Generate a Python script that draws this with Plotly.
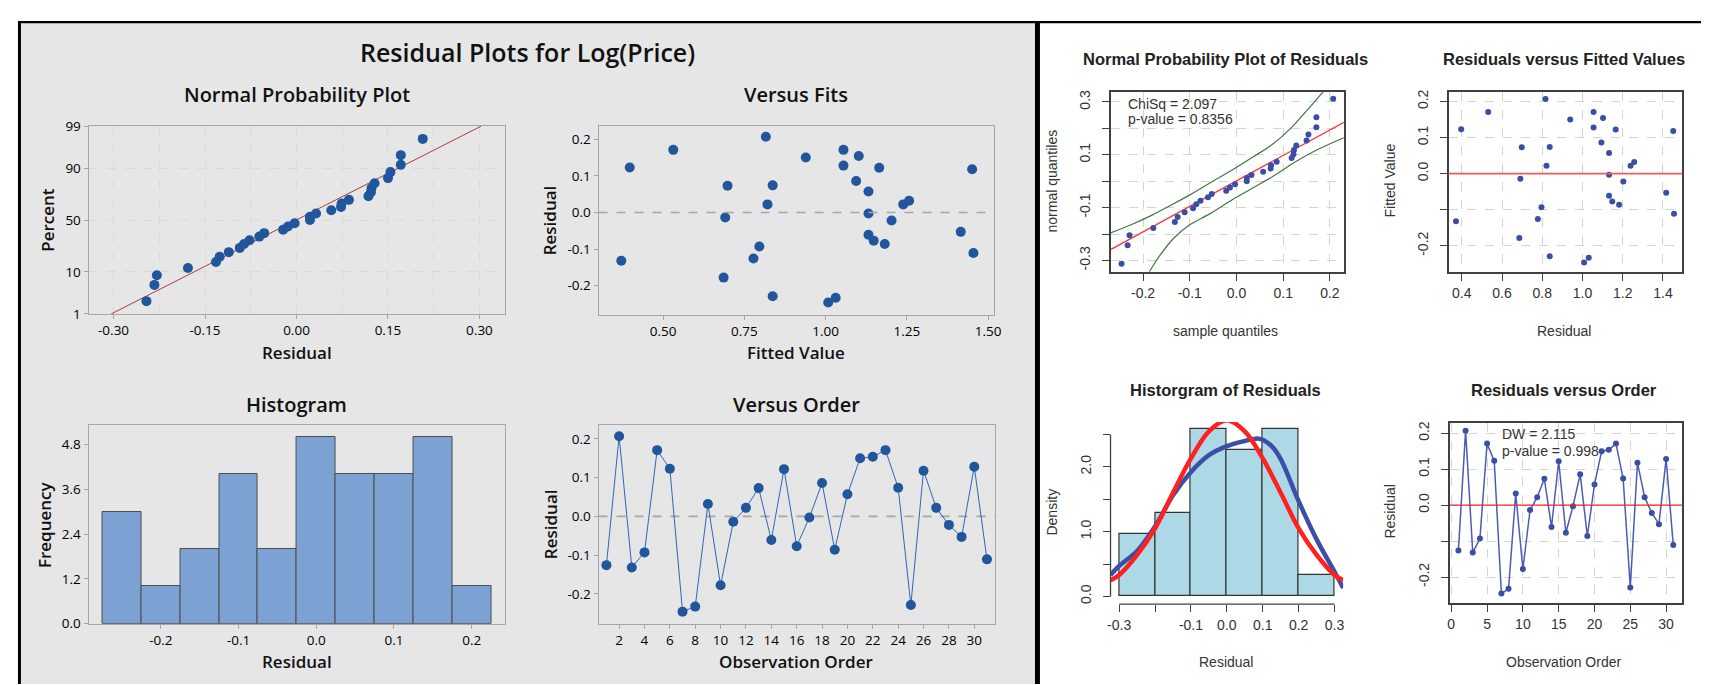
import plotly.graph_objects as go
from statistics import NormalDist

W, H = 1709, 685
MT_FONT = "Open Sans"
R_FONT = "Liberation Sans"

# ---------------- data ----------------
observation = list(range(1, 32))
residuals = [-0.126, 0.207, -0.132, -0.093, 0.171, 0.123, -0.246, -0.233, 0.032, -0.178,
             -0.014, 0.022, 0.073, -0.061, 0.122, -0.077, -0.003, 0.086, -0.086, 0.057,
             0.150, 0.154, 0.171, 0.074, -0.229, 0.118, 0.022, -0.022, -0.053, 0.128, -0.111]
fitted_values = [0.778, 0.816, 0.371, 0.796, 0.531, 0.397, 1.008, 1.031, 1.257, 0.686,
                 0.691, 0.821, 0.698, 1.132, 1.165, 1.148, 1.132, 1.094, 1.182, 1.132,
                 0.939, 1.102, 1.055, 0.837, 0.837, 1.451, 1.239, 1.203, 1.416, 1.055, 1.455]

# Minitab normal probability plot
npp_pct_ticks = [1, 10, 50, 90, 99]
npp_line_x = [-0.304, 0.303]
npp_line_pct = [1, 99]

# R normal probability plot (scale of "normal quantiles" axis, fitted line, envelope)
r_qq_scale = 0.146
r_line_x = [-0.2696, 0.2298]
r_line_y = [-0.259, 0.223]
env_upper_x = [-0.2695, -0.2255, -0.183, -0.1404, -0.100, -0.0554, -0.0057, 0.0368, 0.0793, 0.1148, 0.1432, 0.168, 0.1857]
env_upper_y = [-0.1955, -0.1648, -0.1303, -0.091, -0.0516, -0.0049, 0.0467, 0.0934, 0.1426, 0.198, 0.2533, 0.3025, 0.339]
env_lower_x = [-0.1865, -0.1759, -0.1617, -0.1334, -0.100, -0.0554, -0.0057, 0.0368, 0.0793, 0.1219, 0.1715, 0.2297]
env_lower_y = [-0.343, -0.3123, -0.2754, -0.2139, -0.1648, -0.1217, -0.0664, -0.0234, 0.0197, 0.0689, 0.118, 0.1648]

# R histogram density curves
norm_x = [-0.324, -0.3, -0.25, -0.2, -0.15, -0.1, -0.05, 0.0, 0.05, 0.1, 0.15, 0.2, 0.25, 0.3, 0.324]
norm_dens = [0.25, 0.33, 0.64, 1.05, 1.60, 2.13, 2.55, 2.72, 2.55, 2.13, 1.60, 1.05, 0.64, 0.33, 0.25]
kde_x = [-0.324, -0.3, -0.25, -0.2, -0.15, -0.1, -0.05, 0.0, 0.05, 0.085, 0.1, 0.125, 0.15, 0.2, 0.25, 0.3, 0.324]
kde_dens = [0.33, 0.47, 0.70, 1.08, 1.56, 1.92, 2.18, 2.32, 2.40, 2.44, 2.42, 2.32, 2.12, 1.47, 0.88, 0.38, 0.13]

# text
main_title = "Residual Plots for Log(Price)"
stat_chisq = "ChiSq = 2.097"
stat_chisq_p = "p-value = 0.8356"
stat_dw = "DW = 2.115"
stat_dw_p = "p-value = 0.998"

# ---------------- derived positions ----------------
std_norm = NormalDist()
n = len(residuals)
res_sorted = sorted(residuals)
npp_z = [std_norm.inv_cdf((i - 0.3) / (n + 0.4)) for i in range(1, n + 1)]
r_qq_y = [NormalDist(0, r_qq_scale).inv_cdf((i - 0.5) / n) for i in range(1, n + 1)]
zt = lambda p: std_norm.inv_cdf(p / 100.0)

MT_BLUE = "#1f569c"
R_BLUE = "#3a4ea6"


def dx(a, b):
    return [a / W, b / W]


def dy(top, bottom):
    return [1 - bottom / H, 1 - top / H]


fig = go.Figure()

# ---- Minitab panel ----
fig.add_trace(go.Scatter(x=npp_line_x, y=[zt(p) for p in npp_line_pct], mode="lines",
                         line=dict(color="#b03a3a", width=1), xaxis="x", yaxis="y"))
fig.add_trace(go.Scatter(x=res_sorted, y=npp_z, mode="markers",
                         marker=dict(size=10, color=MT_BLUE), xaxis="x", yaxis="y"))
fig.add_trace(go.Scatter(x=fitted_values, y=residuals, mode="markers",
                         marker=dict(size=10, color=MT_BLUE), xaxis="x2", yaxis="y2"))
fig.add_trace(go.Histogram(x=residuals, xbins=dict(start=-0.275, end=0.225, size=0.05),
                           marker=dict(color="#7ba2d3", line=dict(color="#4d4d4d", width=1)),
                           xaxis="x3", yaxis="y3"))
fig.add_trace(go.Scatter(x=observation, y=residuals, mode="lines+markers",
                         line=dict(color="#2f66b8", width=1),
                         marker=dict(size=10, color=MT_BLUE), xaxis="x4", yaxis="y4"))

# ---- R panel ----
fig.add_trace(go.Scatter(x=env_upper_x, y=env_upper_y, mode="lines", line=dict(color="#3d7a3d", width=1.2, shape="spline"),
                         xaxis="x5", yaxis="y5"))
fig.add_trace(go.Scatter(x=env_lower_x, y=env_lower_y, mode="lines", line=dict(color="#3d7a3d", width=1.2, shape="spline"),
                         xaxis="x5", yaxis="y5"))
fig.add_trace(go.Scatter(x=r_line_x, y=r_line_y, mode="lines", line=dict(color="#ff3030", width=1.2),
                         xaxis="x5", yaxis="y5"))
fig.add_trace(go.Scatter(x=res_sorted, y=r_qq_y, mode="markers", marker=dict(size=6, color=R_BLUE),
                         xaxis="x5", yaxis="y5"))
fig.add_trace(go.Scatter(x=fitted_values, y=residuals, mode="markers", marker=dict(size=6, color=R_BLUE),
                         xaxis="x6", yaxis="y6"))
fig.add_trace(go.Histogram(x=residuals, xbins=dict(start=-0.3, end=0.3, size=0.1), histnorm="probability density",
                           marker=dict(color="#add8e6", line=dict(color="#333333", width=1.2)),
                           xaxis="x7", yaxis="y7"))
fig.add_trace(go.Scatter(x=kde_x, y=kde_dens, mode="lines", line=dict(color="#3b4ea8", width=4.5, shape="spline"),
                         xaxis="x7", yaxis="y7"))
fig.add_trace(go.Scatter(x=norm_x, y=norm_dens, mode="lines", line=dict(color="#ff2020", width=4.5, shape="spline"),
                         xaxis="x7", yaxis="y7"))
fig.add_trace(go.Scatter(x=observation, y=residuals, mode="lines+markers",
                         line=dict(color="#4b5cb5", width=1.5), marker=dict(size=6, color=R_BLUE),
                         xaxis="x8", yaxis="y8"))


# ---------------- axes ----------------
def mt_axis(domain, rng, tv, tt, anchor, **kw):
    d = dict(domain=domain, range=rng, tickmode="array", tickvals=tv, ticktext=tt, anchor=anchor,
             showline=True, linecolor="#a6a6a6", linewidth=1, mirror=True,
             ticks="outside", ticklen=4, tickcolor="#a6a6a6",
             tickfont=dict(family=MT_FONT, size=13.5, color="#000000"),
             showgrid=False, zeroline=False, fixedrange=True)
    d.update(kw)
    return d


def r_axis(domain, rng, tv, tt, anchor, **kw):
    d = dict(domain=domain, range=rng, tickmode="array", tickvals=tv, ticktext=tt, anchor=anchor,
             showline=True, linecolor="#404040", linewidth=1.5, mirror=True,
             ticks="outside", ticklen=7, tickcolor="#404040", tickwidth=1,
             tickfont=dict(family=R_FONT, size=14, color="#333333"),
             showgrid=True, gridcolor="#d4d4d4", griddash="dash", gridwidth=1,
             zeroline=False, fixedrange=True)
    d.update(kw)
    return d


mt_grid = dict(showgrid=True, gridcolor="#d9d9d9", griddash="dash", gridwidth=1)
RX_STANDOFF = 1
RY_STANDOFF = 6

layout = dict(
    width=W, height=H, margin=dict(l=0, r=0, t=0, b=0),
    paper_bgcolor="white", plot_bgcolor="white", showlegend=False, bargap=0,
    xaxis=mt_axis(dx(78, 497), [-0.341, 0.342], [-0.30, -0.15, 0.0, 0.15, 0.30],
                  ["-0.30", "-0.15", "0.00", "0.15", "0.30"], "y",
                  minor=dict(tickvals=[-0.225, -0.075, 0.075, 0.225], showgrid=True,
                             gridcolor="#d9d9d9", griddash="dash", ticks=""), **mt_grid),
    yaxis=mt_axis(dy(112, 305), [zt(1), zt(99)], [zt(p) for p in npp_pct_ticks],
                  [str(p) for p in npp_pct_ticks], "x", **mt_grid),
    xaxis2=mt_axis(dx(591, 989), [0.301, 1.519], [0.5, 0.75, 1.0, 1.25, 1.5],
                   ["0.50", "0.75", "1.00", "1.25", "1.50"], "y2"),
    yaxis2=mt_axis(dy(112, 306), [-0.280, 0.236], [-0.2, -0.1, 0.0, 0.1, 0.2],
                   ["-0.2", "-0.1", "0.0", "0.1", "0.2"], "x2"),
    xaxis3=mt_axis(dx(78, 497), [-0.293, 0.243], [-0.2, -0.1, 0.0, 0.1, 0.2],
                   ["-0.2", "-0.1", "0.0", "0.1", "0.2"], "y3"),
    yaxis3=mt_axis(dy(419, 623), [0, 5.32], [0, 1.2, 2.4, 3.6, 4.8],
                   ["0.0", "1.2", "2.4", "3.6", "4.8"], "x3"),
    xaxis4=mt_axis(dx(591, 990), [0.378, 31.65], list(range(2, 31, 2)),
                   [str(v) for v in range(2, 31, 2)], "y4"),
    yaxis4=mt_axis(dy(419, 623), [-0.277, 0.236], [-0.2, -0.1, 0.0, 0.1, 0.2],
                   ["-0.2", "-0.1", "0.0", "0.1", "0.2"], "x4"),

    xaxis5=r_axis(dx(1106, 1340.7), [-0.2696, 0.2298], [-0.2, -0.1, 0.0, 0.1, 0.2],
                  ["-0.2", "-0.1", "0.0", "0.1", "0.2"], "y5", ticklabelstandoff=RX_STANDOFF),
    yaxis5=r_axis(dy(76.7, 261.7), [-0.343, 0.339], [-0.3, -0.2, -0.1, 0.0, 0.1, 0.2, 0.3],
                  ["-0.3", "", "-0.1", "", "0.1", "", "0.3"], "x5", tickangle=-90, ticklabelstandoff=RY_STANDOFF),
    xaxis6=r_axis(dx(1446, 1680.7), [0.334, 1.494], [0.4, 0.6, 0.8, 1.0, 1.2, 1.4],
                  ["0.4", "0.6", "0.8", "1.0", "1.2", "1.4"], "y6", ticklabelstandoff=RX_STANDOFF),
    yaxis6=r_axis(dy(76.7, 261.7), [-0.272, 0.227], [-0.2, -0.1, 0.0, 0.1, 0.2],
                  ["-0.2", "", "0.0", "0.1", "0.2"], "x6", tickangle=-90, ticklabelstandoff=RY_STANDOFF),
    xaxis7=r_axis(dx(1106, 1340), [-0.324, 0.324], [-0.3, -0.2, -0.1, 0.0, 0.1, 0.2, 0.3],
                  ["-0.3", "", "-0.1", "0.0", "0.1", "0.2", "0.3"], "y7",
                  showline=False, showgrid=False, ticklabelstandoff=RX_STANDOFF),
    yaxis7=r_axis(dy(416, 603), [-0.120, 2.692], [0, 0.5, 1.0, 1.5, 2.0, 2.5],
                  ["0.0", "", "1.0", "", "2.0", ""], "x7",
                  showline=False, showgrid=False, tickangle=-90, ticklabelstandoff=RY_STANDOFF),
    xaxis8=r_axis(dx(1447.3, 1680.7), [-0.2, 32.2], [0, 5, 10, 15, 20, 25, 30],
                  ["0", "5", "10", "15", "20", "25", "30"], "y8", ticklabelstandoff=RX_STANDOFF),
    yaxis8=r_axis(dy(416.7, 601.7), [-0.272, 0.229], [-0.2, -0.1, 0.0, 0.1, 0.2],
                  ["-0.2", "", "0.0", "0.1", "0.2"], "x8", tickangle=-90, ticklabelstandoff=RY_STANDOFF),
)

# ---------------- shapes ----------------
shapes = [
    dict(type="rect", xref="paper", yref="paper", x0=10 / W, x1=1030 / W, y0=0, y1=1 - 6 / H,
         fillcolor="#e6e6e6", line=dict(width=0), layer="below"),
    dict(type="rect", xref="paper", yref="paper", x0=7 / W, x1=1, y0=1 - 6.5 / H, y1=1 - 4 / H,
         fillcolor="black", line=dict(width=0)),
    dict(type="rect", xref="paper", yref="paper", x0=7 / W, x1=10 / W, y0=0, y1=1 - 4 / H,
         fillcolor="black", line=dict(width=0)),
    dict(type="rect", xref="paper", yref="paper", x0=1030 / W, x1=1035 / W, y0=0, y1=1 - 4 / H,
         fillcolor="black", line=dict(width=0)),
    # zero reference lines
    dict(type="line", xref="x2 domain", yref="y2", x0=0, x1=1, y0=0, y1=0,
         line=dict(color="#a6a6a6", width=1.6, dash="dash")),
    dict(type="line", xref="x4 domain", yref="y4", x0=0, x1=1, y0=0, y1=0,
         line=dict(color="#a6a6a6", width=1.6, dash="dash"), layer="below"),
    dict(type="line", xref="x6 domain", yref="y6", x0=0, x1=1, y0=0, y1=0,
         line=dict(color="#f05a5a", width=1.6)),
    dict(type="line", xref="x8 domain", yref="y8", x0=0, x1=1, y0=0, y1=0,
         line=dict(color="#ff2020", width=1.4)),
    # R histogram axis lines
    dict(type="line", xref="x7 domain", yref="y7", x0=0, x1=0, y0=0, y1=2.5,
         line=dict(color="#404040", width=1.3)),
    dict(type="line", xref="x7", yref="y7 domain", x0=-0.3, x1=0.3, y0=0, y1=0,
         line=dict(color="#404040", width=1.3)),
]
layout["shapes"] = shapes


# ---------------- text ----------------
def ann(text, x, y, size, family, color="#111111", weight=400, angle=0, xanchor="center"):
    return dict(text=text, x=x / W, y=1 - y / H, xref="paper", yref="paper", showarrow=False,
                xanchor=xanchor, yanchor="middle", textangle=angle,
                font=dict(family=family, size=size, color=color, weight=weight))


annotations = [
    ann(main_title, 520, 36, 25, MT_FONT, weight=600),
    ann("Normal Probability Plot", 287.5, 80, 20, MT_FONT, weight=600),
    ann("Versus Fits", 790, 80, 20, MT_FONT, weight=600),
    ann("Histogram", 287.5, 398, 20, MT_FONT, weight=600),
    ann("Versus Order", 790, 398, 20, MT_FONT, weight=600),
    ann("Residual", 287.5, 345, 17, MT_FONT, weight=600),
    ann("Percent", 36, 208.5, 17, MT_FONT, weight=600, angle=-90),
    ann("Fitted Value", 790, 345, 17, MT_FONT, weight=600),
    ann("Residual", 542, 209, 17, MT_FONT, weight=600, angle=-90),
    ann("Residual", 287.5, 662, 17, MT_FONT, weight=600),
    ann("Frequency", 34, 521, 17, MT_FONT, weight=600, angle=-90),
    ann("Observation Order", 790, 662, 17, MT_FONT, weight=600),
    ann("Residual", 542, 521, 17, MT_FONT, weight=600, angle=-90),

    ann("Normal Probability Plot of Residuals", 1222, 43, 16.5, R_FONT, color="#222222", weight=700),
    ann("Residuals versus Fitted Values", 1562, 43, 16.5, R_FONT, color="#222222", weight=700),
    ann("Historgram of Residuals", 1222, 383, 16.5, R_FONT, color="#222222", weight=700),
    ann("Residuals versus Order", 1562, 383, 16.5, R_FONT, color="#222222", weight=700),
    ann("sample quantiles", 1222, 322, 14, R_FONT, color="#333333"),
    ann("normal quantiles", 1047, 168, 14, R_FONT, color="#333333", angle=-90),
    ann("Residual", 1562, 322, 14, R_FONT, color="#333333"),
    ann("Fitted Value", 1387, 168, 14, R_FONT, color="#333333", angle=-90),
    ann("Residual", 1222, 662, 14, R_FONT, color="#333333"),
    ann("Density", 1047, 508, 14, R_FONT, color="#333333", angle=-90),
    ann("Observation Order", 1562, 662, 14, R_FONT, color="#333333"),
    ann("Residual", 1387, 508, 14, R_FONT, color="#333333", angle=-90),

    ann(stat_chisq, 1122, 89, 14, R_FONT, color="#333333", xanchor="left"),
    ann(stat_chisq_p, 1122, 105, 14, R_FONT, color="#333333", xanchor="left"),
    ann(stat_dw, 1498, 428, 14, R_FONT, color="#333333", xanchor="left"),
    ann(stat_dw_p, 1498, 446, 14, R_FONT, color="#333333", xanchor="left"),
]
layout["annotations"] = annotations

fig.update_layout(**layout)
fig.write_html("out.html")
